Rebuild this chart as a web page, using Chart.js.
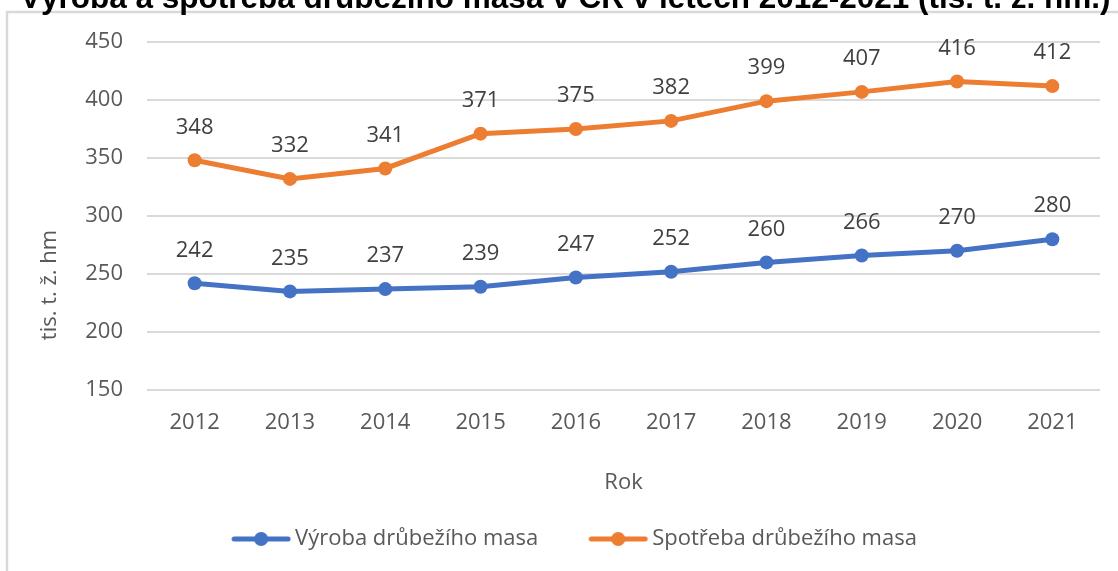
<!DOCTYPE html>
<html>
<head>
<meta charset="utf-8">
<script src="https://cdn.jsdelivr.net/npm/chart.js@4"></script>
<style>
  html, body { margin: 0; padding: 0; background: #fff; }
  #wrap { width: 1118px; height: 571px; }
</style>
</head>
<body>
<div id="wrap"><canvas id="myChart" width="1118" height="571"></canvas></div>
<script>
"use strict";

// data
const years = ['2012', '2013', '2014', '2015', '2016', '2017', '2018', '2019', '2020', '2021'];
const vyroba = [242, 235, 237, 239, 247, 252, 260, 266, 270, 280];
const spotreba = [348, 332, 341, 371, 375, 382, 399, 407, 416, 412];
const seriesNames = ['Výroba drůbežího masa', 'Spotřeba drůbežího masa'];
const chartTitle = 'Výroba a spotřeba drůbežího masa v ČR v letech 2012-2021 (tis. t. ž. hm.)';
const yTitle = 'tis. t. ž. hm';
const xTitle = 'Rok';

const BLUE = '#4472C4';
const ORANGE = '#ED7D31';
const FONT = '"Open Sans", "Noto Sans", sans-serif';
const FS = 22;

// legend symbol: line with dot, shifted right inside a wider image
function legendSymbol(color) {
	const c = document.createElement('canvas');
	c.width = 107;
	c.height = 16;
	const g = c.getContext('2d');
	g.strokeStyle = color;
	g.lineWidth = 5;
	g.lineCap = 'round';
	g.beginPath();
	g.moveTo(50, 8);
	g.lineTo(104, 8);
	g.stroke();
	g.fillStyle = color;
	g.beginPath();
	g.arc(77, 8, 7, 0, Math.PI * 2);
	g.fill();
	return c;
}

const extras = {
	id: 'extras',
	beforeDraw(chart) {
		const ctx = chart.ctx;
		ctx.save();
		// frame of the chart object
		ctx.strokeStyle = '#d9d9d9';
		ctx.lineWidth = 2.5;
		ctx.beginPath();
		ctx.moveTo(7, 571);
		ctx.lineTo(7, 12);
		ctx.lineTo(1118, 12);
		ctx.stroke();
		// title, clipped at the top as in the source
		ctx.fillStyle = '#000';
		ctx.font = 'bold 31.5px "Liberation Sans", Arial, sans-serif';
		ctx.textAlign = 'left';
		ctx.textBaseline = 'alphabetic';
		ctx.fillText(chartTitle, 20, 8);
		// y axis title
		ctx.translate(50, 285);
		ctx.rotate(-Math.PI / 2);
		ctx.fillStyle = '#595959';
		ctx.font = FS + 'px ' + FONT;
		ctx.textAlign = 'center';
		ctx.textBaseline = 'middle';
		ctx.fillText(yTitle, 0, 0);
		ctx.restore();
	},
	afterDatasetsDraw(chart) {
		const ctx = chart.ctx;
		ctx.save();
		ctx.fillStyle = '#404040';
		ctx.font = FS + 'px ' + FONT;
		ctx.textAlign = 'center';
		ctx.textBaseline = 'middle';
		chart.data.datasets.forEach(function (ds, i) {
			chart.getDatasetMeta(i).data.forEach(function (pt, j) {
				ctx.fillText(String(ds.data[j]), pt.x, pt.y - 33);
			});
		});
		ctx.restore();
	}
};

const ctx = document.getElementById('myChart');

new Chart(ctx, {
	type: 'line',
	data: {
		labels: years,
		datasets: [{
			label: seriesNames[0],
			data: vyroba,
			borderColor: BLUE,
			backgroundColor: BLUE,
			borderWidth: 5,
			pointRadius: 7,
			pointBackgroundColor: BLUE,
			pointBorderWidth: 0,
			pointStyle: 'circle',
			tension: 0
		}, {
			label: seriesNames[1],
			data: spotreba,
			borderColor: ORANGE,
			backgroundColor: ORANGE,
			borderWidth: 5,
			pointRadius: 7,
			pointBackgroundColor: ORANGE,
			pointBorderWidth: 0,
			pointStyle: 'circle',
			tension: 0
		}]
	},
	options: {
		responsive: false,
		animation: false,
		layout: { padding: { left: 8, top: 42, right: 18, bottom: 11 } },
		scales: {
			x: {
				offset: true,
				grid: { display: false },
				border: { display: false },
				ticks: { color: '#595959', font: { family: FONT, size: FS }, padding: 12, maxRotation: 0 },
				title: { display: true, text: xTitle, color: '#595959', font: { family: FONT, size: FS }, padding: { top: 0, bottom: 22 } },
				afterFit(scale) { scale.height = 128; }
			},
			y: {
				min: 150,
				max: 450,
				ticks: { stepSize: 50, color: '#595959', font: { family: FONT, size: FS }, padding: 24 },
				grid: { color: '#d9d9d9', lineWidth: 2, drawTicks: false },
				border: { display: false },
				afterFit(scale) { scale.width = 139; }
			}
		},
		plugins: {
			legend: {
				position: 'bottom',
				labels: {
					color: '#595959',
					font: { family: FONT, size: FS },
					padding: 10,
					usePointStyle: true,
					pointStyleWidth: 93,
					generateLabels(chart) {
						return chart.data.datasets.map(function (ds, i) {
							return {
								text: ds.label,
								fontColor: '#595959',
								pointStyle: legendSymbol(ds.borderColor),
								fillStyle: ds.borderColor,
								strokeStyle: ds.borderColor,
								lineWidth: 0,
								hidden: false,
								datasetIndex: i
							};
						});
					}
				}
			},
			tooltip: { enabled: false }
		}
	},
	plugins: [extras]
});
</script>
</body>
</html>
